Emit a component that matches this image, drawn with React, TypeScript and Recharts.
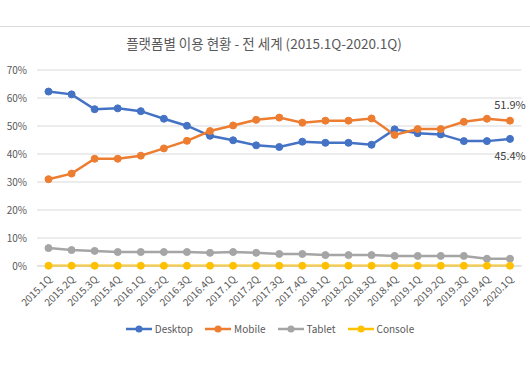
import { LineChart, Line, XAxis, YAxis, CartesianGrid, Legend, LabelList } from 'recharts'

const quarters = [
  '2015.1Q', '2015.2Q', '2015.3Q', '2015.4Q',
  '2016.1Q', '2016.2Q', '2016.3Q', '2016.4Q',
  '2017.1Q', '2017.2Q', '2017.3Q', '2017.4Q',
  '2018.1Q', '2018.2Q', '2018.3Q', '2018.4Q',
  '2019.1Q', '2019.2Q', '2019.3Q', '2019.4Q',
  '2020.1Q',
]

const desktop = [62.3, 61.3, 56.0, 56.3, 55.3, 52.6, 50.1, 46.5, 44.9, 43.1, 42.5, 44.4, 44.0, 44.0, 43.3, 48.8, 47.4, 47.0, 44.6, 44.6, 45.4]
const mobile = [31.0, 33.0, 38.3, 38.3, 39.4, 42.0, 44.7, 48.2, 50.2, 52.2, 53.0, 51.2, 51.9, 51.9, 52.7, 46.8, 48.9, 48.9, 51.5, 52.6, 51.9]
const tablet = [6.4, 5.7, 5.4, 5.0, 5.0, 5.0, 5.0, 4.7, 5.0, 4.7, 4.3, 4.3, 3.9, 3.9, 3.9, 3.6, 3.6, 3.6, 3.6, 2.6, 2.6]
const consoleShare = [0.1, 0.1, 0.1, 0.1, 0.1, 0.1, 0.1, 0.1, 0.1, 0.1, 0.1, 0.1, 0.1, 0.1, 0.1, 0.1, 0.1, 0.1, 0.1, 0.1, 0.1]

const yTicks = [0, 10, 20, 30, 40, 50, 60, 70]

const series = [
  { key: 'desktop', name: 'Desktop', color: '#4472C4' },
  { key: 'mobile', name: 'Mobile', color: '#ED7D31' },
  { key: 'tablet', name: 'Tablet', color: '#A5A5A5' },
  { key: 'console', name: 'Console', color: '#FFC000' },
]

const data = quarters.map((q, i) => ({
  quarter: q,
  desktop: desktop[i],
  mobile: mobile[i],
  tablet: tablet[i],
  console: consoleShare[i],
}))

const FONT = '"Noto Sans CJK KR", "Noto Sans", sans-serif'
const lastIndex = quarters.length - 1

function XTick({ x, y, payload }: any) {
  const tx = x + 4
  const ty = y + 14
  return (
    <text x={tx} y={ty} transform={`rotate(-45 ${tx} ${ty})`} textAnchor="end" fill="#595959" fontSize={10} fontFamily={FONT}>
      {payload.value}
    </text>
  )
}

// only the last point gets a value label
function endLabel(offset: number) {
  return ({ x, y, value, index }: any) => {
    if (index !== lastIndex) return null
    return (
      <text x={x} y={y + offset} textAnchor="middle" fill="#404040" fontSize={11} fontFamily={FONT}>
        {`${value.toFixed(1)}%`}
      </text>
    )
  }
}

function LegendContent() {
  return (
    <div style={{ display: 'flex', justifyContent: 'center', paddingLeft: 22, fontFamily: FONT, fontSize: 10, color: '#595959' }}>
      {series.map((s) => (
        <div key={s.key} style={{ display: 'flex', alignItems: 'center', marginRight: 12 }}>
          <svg width={26} height={8} style={{ marginRight: 3 }}>
            <line x1={0} y1={4} x2={26} y2={4} stroke={s.color} strokeWidth={2.5} />
            <circle cx={13} cy={4} r={3.5} fill={s.color} />
          </svg>
          <span>{s.name}</span>
        </div>
      ))}
    </div>
  )
}

export default function App() {
  return (
    <div style={{ position: 'absolute', left: 0, top: 0, width: 530, height: 369, background: '#fff' }}>
      <div style={{ position: 'absolute', left: 0, top: 26, width: 530, height: 1, background: '#d9d9d9' }} />
      <div
        style={{
          position: 'absolute',
          left: 0,
          top: 33,
          width: 528,
          textAlign: 'center',
          fontFamily: FONT,
          fontSize: 13.5,
          color: '#595959',
        }}
      >
        플랫폼별 이용 현황 - 전 세계 (2015.1Q-2020.1Q)
      </div>
      <div style={{ position: 'absolute', left: 0, top: 0 }}>
        <LineChart width={530} height={369} data={data} margin={{ top: 70, right: 8.5, bottom: 43, left: 0 }}>
          <CartesianGrid vertical={false} stroke="#d9d9d9" />
          <XAxis
            dataKey="quarter"
            interval={0}
            height={60}
            axisLine={{ stroke: '#d9d9d9' }}
            tickLine={false}
            tickSize={0}
            tickMargin={0}
            padding={{ left: 11.5, right: 11.5 }}
            tick={<XTick />}
          />
          <YAxis
            width={37}
            domain={[0, 70]}
            ticks={yTicks}
            axisLine={false}
            tickLine={false}
            tickSize={0}
            tickMargin={10}
            tick={{ fill: '#595959', fontSize: 10, fontFamily: FONT }}
            tickFormatter={(v) => `${v}%`}
          />
          <Legend
            layout="horizontal"
            verticalAlign="middle"
            wrapperStyle={{ top: 321, left: 0, width: 530 }}
            content={<LegendContent />}
          />
          {series.map((s) => (
            <Line
              key={s.key}
              dataKey={s.key}
              name={s.name}
              stroke={s.color}
              strokeWidth={2.5}
              dot={{ r: 3.5, fill: s.color, stroke: s.color, strokeWidth: 1 }}
              isAnimationActive={false}
            >
              {s.key === 'mobile' && <LabelList dataKey="mobile" content={endLabel(-12)} />}
              {s.key === 'desktop' && <LabelList dataKey="desktop" content={endLabel(21)} />}
            </Line>
          ))}
        </LineChart>
      </div>
    </div>
  )
}
